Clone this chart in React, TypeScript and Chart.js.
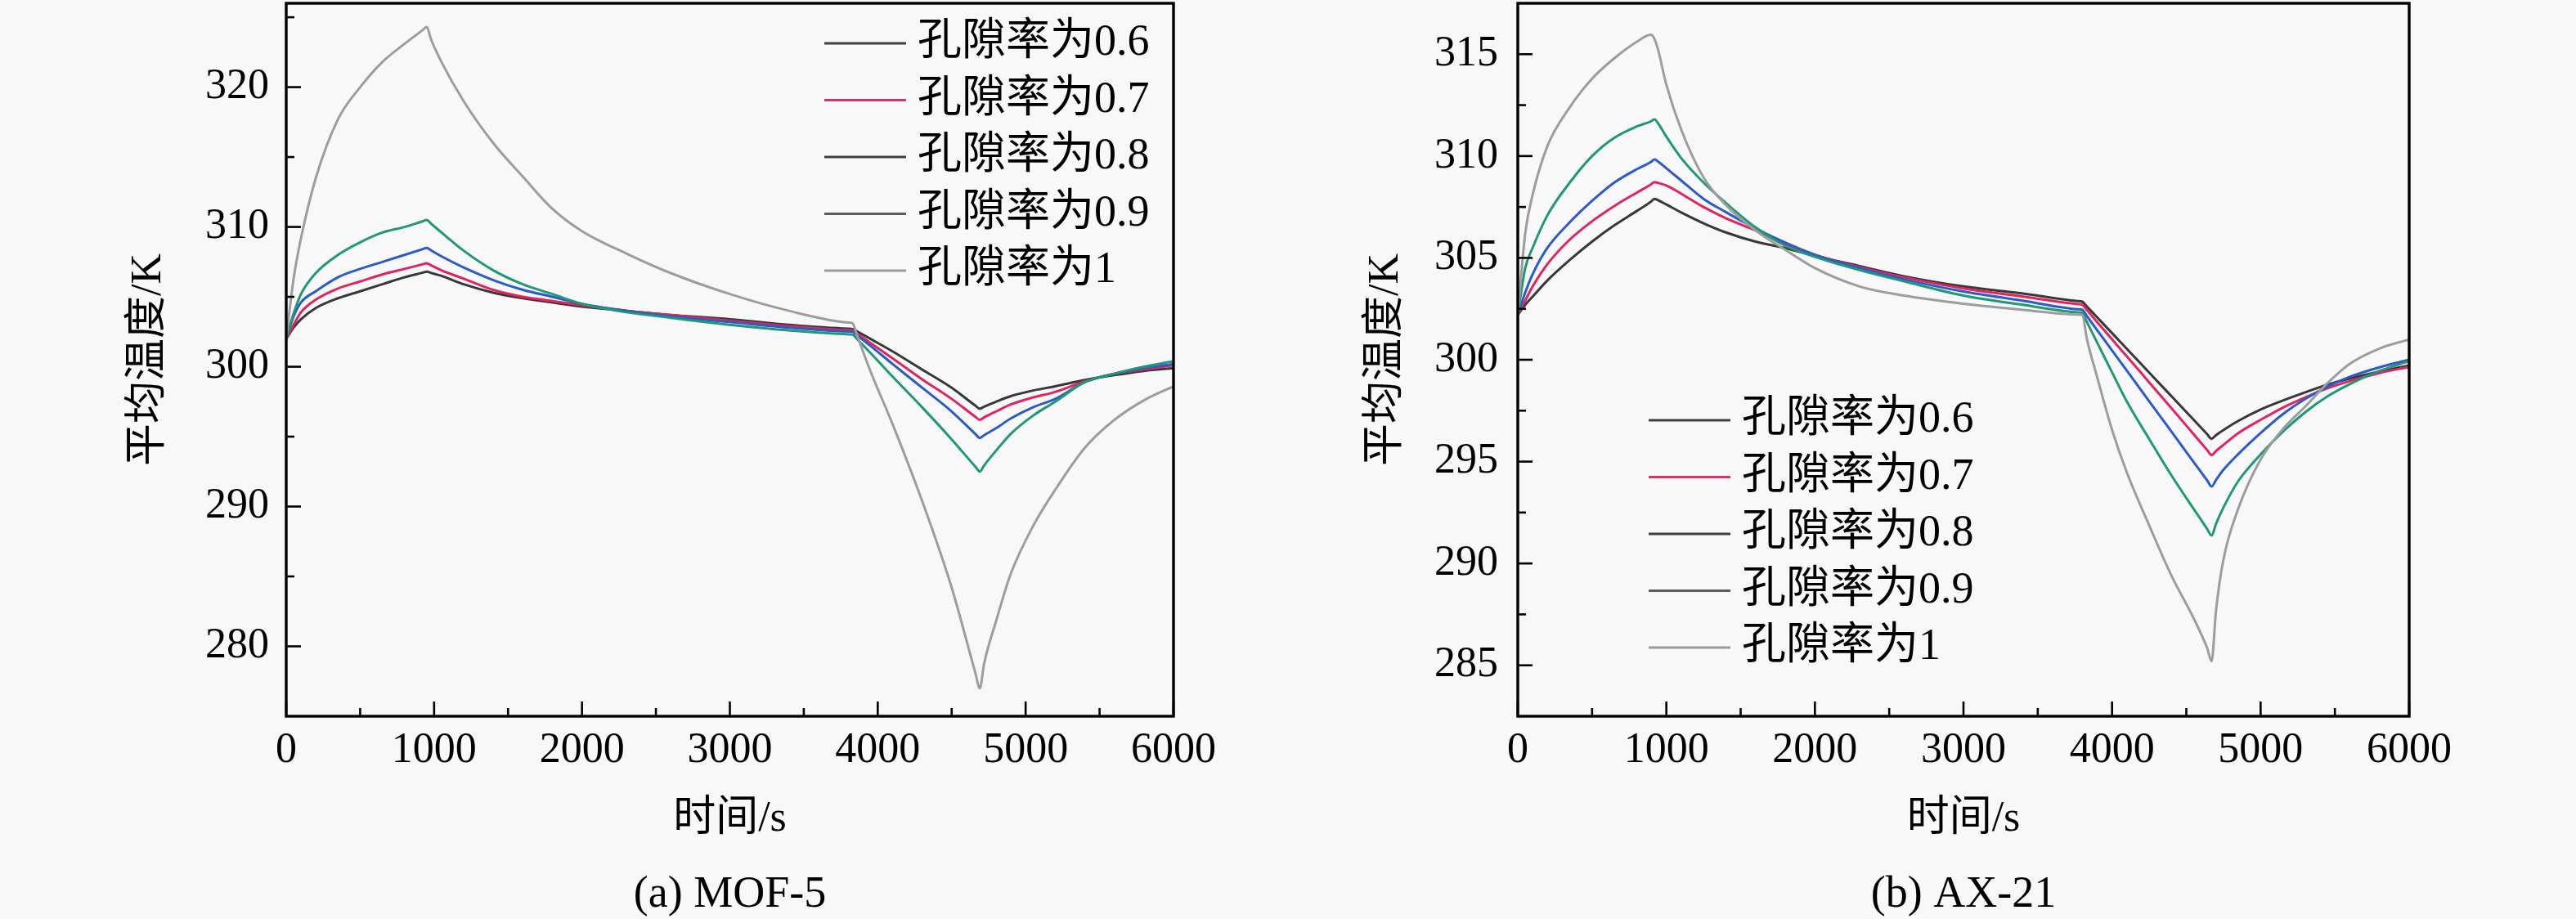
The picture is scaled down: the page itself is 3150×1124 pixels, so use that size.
import React, { useEffect, useRef } from "react";
import { Chart, registerables } from "chart.js";

Chart.register(...registerables);

// ---------- data ----------
const LABELS = ["孔隙率为0.6", "孔隙率为0.7", "孔隙率为0.8", "孔隙率为0.9", "孔隙率为1"];

const MOF_TIME = [0, 50, 100, 200, 350, 500, 650, 800, 920, 950, 980, 1050, 1200, 1400, 1600, 1800, 2000, 2300, 2600, 3000, 3400, 3800, 3830, 3860, 3950, 4100, 4300, 4500, 4660, 4690, 4720, 4800, 4900, 5050, 5200, 5400, 5600, 5800, 6000];
const MOF_P06 = [302.0, 302.8, 303.4, 304.2, 304.9, 305.4, 305.9, 306.4, 306.72, 306.8, 306.71, 306.5, 305.9, 305.3, 304.9, 304.6, 304.3, 304.0, 303.7, 303.4, 303.0, 302.72, 302.7, 302.53, 302.0, 301.1, 299.8, 298.5, 297.22, 297.0, 297.15, 297.5, 297.9, 298.3, 298.6, 299.05, 299.4, 299.7, 299.9];
const MOF_P07 = [302.0, 303.0, 303.9, 304.8, 305.6, 306.1, 306.6, 307.0, 307.32, 307.4, 307.25, 306.9, 306.3, 305.5, 305.0, 304.7, 304.4, 304.0, 303.7, 303.3, 302.9, 302.62, 302.6, 302.38, 301.7, 300.6, 299.1, 297.7, 296.42, 296.2, 296.38, 296.8, 297.3, 297.8, 298.2, 298.95, 299.5, 299.8, 300.1];
const MOF_P08 = [302.0, 303.6, 304.6, 305.4, 306.4, 307.0, 307.5, 308.0, 308.4, 308.5, 308.32, 307.9, 307.1, 306.2, 305.5, 305.0, 304.5, 304.0, 303.6, 303.2, 302.8, 302.52, 302.5, 302.25, 301.5, 300.2, 298.5, 296.8, 295.19, 294.9, 295.11, 295.6, 296.3, 297.1, 297.7, 298.9, 299.5, 299.9, 300.2];
const MOF_P09 = [302.0, 303.8, 305.2, 306.7, 308.0, 308.9, 309.6, 310.0, 310.4, 310.5, 310.23, 309.6, 308.3, 306.9, 305.9, 305.2, 304.5, 303.9, 303.5, 303.0, 302.6, 302.32, 302.3, 301.98, 301.0, 299.3, 297.1, 294.8, 292.85, 292.5, 292.95, 294.0, 295.2, 296.5, 297.5, 298.9, 299.5, 300.0, 300.4];
const MOF_P10 = [302.0, 306.3, 309.2, 313.5, 317.7, 320.0, 321.8, 323.1, 324.06, 324.3, 323.4, 321.8, 319.0, 316.0, 313.6, 311.3, 309.7, 308.1, 306.7, 305.2, 304.0, 303.16, 303.1, 302.25, 299.7, 295.9, 290.4, 284.2, 278.1, 277.0, 278.8, 281.8, 285.2, 288.6, 291.2, 294.2, 296.2, 297.6, 298.6];

const AX_TIME = [0, 50, 100, 200, 350, 500, 650, 800, 895, 920, 945, 1000, 1100, 1250, 1400, 1600, 1800, 2000, 2300, 2600, 3000, 3400, 3770, 3800, 3830, 3900, 4000, 4100, 4250, 4400, 4550, 4640, 4670, 4700, 4750, 4850, 5000, 5150, 5300, 5450, 5600, 5800, 6000];
const AX_P06 = [302.2, 302.7, 303.1, 303.9, 304.9, 305.8, 306.6, 307.3, 307.75, 307.9, 307.83, 307.62, 307.23, 306.7, 306.25, 305.8, 305.48, 305.1, 304.6, 304.1, 303.6, 303.25, 302.88, 302.85, 302.62, 302.08, 301.31, 300.53, 299.37, 298.21, 297.05, 296.35, 296.12, 296.3, 296.55, 297.0, 297.56, 298.0, 298.4, 298.78, 299.08, 299.42, 299.72];
const AX_P07 = [302.2, 302.9, 303.6, 304.7, 305.9, 306.8, 307.55, 308.2, 308.6, 308.72, 308.68, 308.55, 308.15, 307.5, 306.95, 306.35, 305.7, 305.15, 304.55, 304.05, 303.5, 303.1, 302.73, 302.7, 302.45, 301.85, 301.0, 300.16, 298.89, 297.62, 296.34, 295.57, 295.32, 295.52, 295.82, 296.4, 297.05, 297.65, 298.15, 298.6, 298.95, 299.35, 299.65];
const AX_P08 = [302.2, 303.3, 304.2, 305.5, 306.75, 307.8, 308.7, 309.35, 309.7, 309.83, 309.72, 309.4, 308.8, 307.9, 307.25, 306.45, 305.75, 305.15, 304.5, 303.95, 303.35, 302.9, 302.48, 302.45, 302.15, 301.45, 300.46, 299.46, 297.96, 296.47, 294.97, 294.08, 293.78, 294.1, 294.6, 295.37, 296.4, 297.33, 298.07, 298.68, 299.16, 299.63, 300.0];
const AX_P09 = [302.2, 304.5, 305.5, 307.1, 308.7, 310.0, 310.9, 311.45, 311.7, 311.8, 311.6, 310.95, 309.9, 308.7, 307.7, 306.5, 305.6, 305.05, 304.4, 303.85, 303.15, 302.7, 302.33, 302.3, 301.86, 300.84, 299.38, 297.94, 296.11, 294.32, 292.67, 291.7, 291.37, 291.95, 292.75, 294.05, 295.35, 296.47, 297.42, 298.2, 298.8, 299.45, 299.93];
const AX_P10 = [302.2, 306.2, 308.1, 310.5, 312.4, 313.8, 314.8, 315.6, 315.95, 315.75, 315.2, 313.5, 311.3, 308.95, 307.6, 306.35, 305.4, 304.5, 303.6, 303.15, 302.75, 302.45, 302.22, 302.2, 301.05, 299.14, 296.56, 294.46, 291.87, 289.4, 287.3, 285.85, 285.2, 287.7, 290.2, 292.7, 295.1, 296.6, 297.7, 298.85, 299.8, 300.55, 301.0];

const X_TICKS = [0, 1000, 2000, 3000, 4000, 5000, 6000];
const X_MINOR = [500, 1500, 2500, 3500, 4500, 5500];
const MOF_Y_TICKS = [280, 290, 300, 310, 320];
const MOF_Y_MINOR = [285, 295, 305, 315, 325];
const AX_Y_TICKS = [285, 290, 295, 300, 305, 310, 315];
const AX_Y_MINOR = [287.5, 292.5, 297.5, 302.5, 307.5, 312.5];

// ---------- styles ----------
const LINE_COLORS = ["#383838", "#e0255d", "#2a5bc9", "#1f9877", "#9d9d9d"];
const LEGEND_COLORS = ["#404040", "#d9336b", "#404040", "#5c5c5c", "#9a9a9a"];
const LATIN_FONT = '"Liberation Serif", "Times New Roman", serif';
const MIXED_FONT = '"Liberation Serif", "Noto Sans CJK SC", serif';
const BG = "#f8f8f8";
const CW = 1575;
const CH = 1124;

type PanelCfg = {
  time: number[];
  series: number[][];
  yMin: number;
  yMax: number;
  yTicks: number[];
  yMinor: number[];
  caption: string;
  plotLeft: number;
  plotRight: number;
  yTitlePad: number;
  yTickPad: number;
  legendX: number;
  legendY: number;
};

function makeChart(canvas: HTMLCanvasElement, cfg: PanelCfg) {
  const frame = {
    id: "frameTicks",
    afterDatasetsDraw(chart: any) {
      const { ctx, chartArea } = chart;
      const { left, right, top, bottom } = chartArea;
      const xs = chart.scales.x;
      const ys = chart.scales.y;
      ctx.save();
      ctx.strokeStyle = "#000";
      ctx.lineWidth = 2.6;
      const tick = (v: number, len: number, horiz: boolean) => {
        ctx.beginPath();
        if (horiz) {
          const p = xs.getPixelForValue(v);
          ctx.moveTo(p, bottom);
          ctx.lineTo(p, bottom - len);
        } else {
          const p = ys.getPixelForValue(v);
          ctx.moveTo(left, p);
          ctx.lineTo(left + len, p);
        }
        ctx.stroke();
      };
      X_TICKS.forEach((v) => tick(v, 18, true));
      X_MINOR.forEach((v) => tick(v, 10, true));
      cfg.yTicks.forEach((v) => tick(v, 18, false));
      cfg.yMinor.forEach((v) => {
        if (v > cfg.yMin && v < cfg.yMax) tick(v, 10, false);
      });
      ctx.lineWidth = 3.4;
      ctx.strokeRect(left, top, right - left, bottom - top);
      ctx.restore();
    },
  };

  const legend = {
    id: "insideLegend",
    afterDraw(chart: any) {
      const ctx = chart.ctx;
      ctx.save();
      ctx.font = `54px ${MIXED_FONT}`;
      ctx.textBaseline = "middle";
      ctx.textAlign = "left";
      LABELS.forEach((lab, i) => {
        const y = cfg.legendY + i * 69.5;
        ctx.strokeStyle = LEGEND_COLORS[i];
        ctx.lineWidth = 3;
        ctx.beginPath();
        ctx.moveTo(cfg.legendX, y);
        ctx.lineTo(cfg.legendX + 100, y);
        ctx.stroke();
        ctx.fillStyle = "#000";
        ctx.fillText(lab, cfg.legendX + 114, y);
      });
      ctx.restore();
    },
  };

  const caption = {
    id: "caption",
    afterDraw(chart: any) {
      const { ctx, chartArea } = chart;
      ctx.save();
      ctx.font = `54px ${LATIN_FONT}`;
      ctx.fillStyle = "#000";
      ctx.textAlign = "center";
      ctx.textBaseline = "middle";
      ctx.fillText(cfg.caption, (chartArea.left + chartArea.right) / 2, 1095);
      ctx.restore();
    },
  };

  const datasets = cfg.series.map((vals, i) => ({
    label: LABELS[i],
    data: cfg.time.map((t, j) => ({ x: t, y: vals[j] })),
    borderColor: LINE_COLORS[i],
    backgroundColor: LINE_COLORS[i],
    borderWidth: 3,
    pointRadius: 0,
    cubicInterpolationMode: "monotone",
    fill: false,
  }));

  const tickFont = { family: LATIN_FONT, size: 52 };
  const titleFont = { family: MIXED_FONT, size: 52 };

  return new Chart(canvas, {
    type: "line",
    data: { datasets: datasets.slice().reverse() },
    options: {
      animation: false,
      responsive: false,
      devicePixelRatio: 1,
      layout: {
        autoPadding: false,
        padding: { left: 0, top: 4, right: CW - cfg.plotRight, bottom: 0 },
      },
      plugins: {
        legend: { display: false },
        tooltip: { enabled: false },
        title: { display: false },
      },
      scales: {
        x: {
          type: "linear",
          min: 0,
          max: 6000,
          afterBuildTicks: (s: any) => {
            s.ticks = X_TICKS.map((v) => ({ value: v }));
          },
          afterFit: (s: any) => {
            s.height = CH - 876;
            s.paddingLeft = 0;
            s.paddingRight = 0;
            s.paddingTop = 0;
            s.paddingBottom = 0;
          },
          grid: { display: false, drawTicks: false },
          border: { display: false },
          ticks: {
            font: tickFont,
            color: "#000",
            padding: 11,
            maxRotation: 0,
            autoSkip: false,
            callback: (v: any) => String(v),
          },
          title: {
            display: true,
            text: "时间/s",
            font: titleFont,
            color: "#000",
            padding: { top: 0, bottom: 90 },
          },
        },
        y: {
          type: "linear",
          min: cfg.yMin,
          max: cfg.yMax,
          afterBuildTicks: (s: any) => {
            s.ticks = cfg.yTicks.map((v) => ({ value: v }));
          },
          afterFit: (s: any) => {
            s.width = cfg.plotLeft;
            s.paddingLeft = 0;
            s.paddingRight = 0;
            s.paddingTop = 0;
            s.paddingBottom = 0;
          },
          grid: { display: false, drawTicks: false },
          border: { display: false },
          ticks: {
            font: tickFont,
            color: "#000",
            padding: cfg.yTickPad,
            autoSkip: false,
            callback: (v: any) => String(v),
          },
          title: {
            display: true,
            text: "平均温度/K",
            font: titleFont,
            color: "#000",
            padding: { top: cfg.yTitlePad, bottom: 0 },
          },
        },
      },
    } as any,
    plugins: [frame, legend, caption],
  });
}

function Panel({ cfg, left }: { cfg: PanelCfg; left: number }) {
  const ref = useRef<HTMLCanvasElement | null>(null);
  useEffect(() => {
    if (!ref.current) return;
    const chart = makeChart(ref.current, cfg);
    return () => chart.destroy();
  }, []);
  return (
    <canvas
      ref={ref}
      width={CW}
      height={CH}
      style={{ position: "absolute", left, top: 0, width: CW, height: CH }}
    />
  );
}

const MOF_CFG: PanelCfg = {
  time: MOF_TIME,
  series: [MOF_P06, MOF_P07, MOF_P08, MOF_P09, MOF_P10],
  yMin: 275,
  yMax: 326,
  yTicks: MOF_Y_TICKS,
  yMinor: MOF_Y_MINOR,
  caption: "(a) MOF-5",
  plotLeft: 350,
  plotRight: 1435,
  yTitlePad: 151,
  yTickPad: 21,
  legendX: 1008,
  legendY: 53,
};

const AX_CFG: PanelCfg = {
  time: AX_TIME,
  series: [AX_P06, AX_P07, AX_P08, AX_P09, AX_P10],
  yMin: 282.5,
  yMax: 317.5,
  yTicks: AX_Y_TICKS,
  yMinor: AX_Y_MINOR,
  caption: "(b) AX-21",
  plotLeft: 281,
  plotRight: 1371,
  yTitlePad: 89,
  yTickPad: 24,
  legendX: 441,
  legendY: 514,
};

export default function App() {
  return (
    <div
      style={{
        position: "fixed",
        left: 0,
        top: 0,
        width: 3150,
        height: 1124,
        background: BG,
        overflow: "hidden",
      }}
    >
      <Panel cfg={MOF_CFG} left={0} />
      <Panel cfg={AX_CFG} left={CW} />
    </div>
  );
}
